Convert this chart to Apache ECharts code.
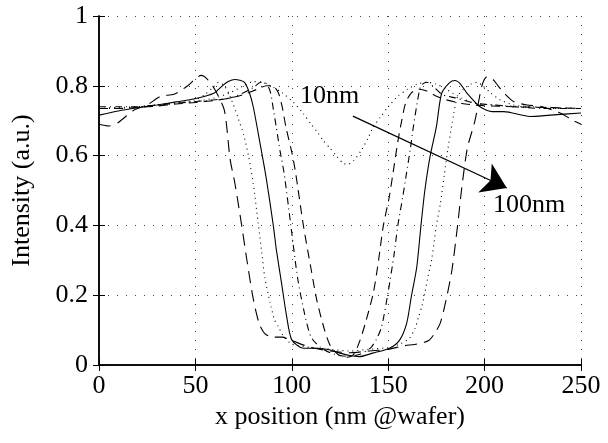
<!DOCTYPE html>
<html>
<head>
<meta charset="utf-8">
<script src="https://cdn.jsdelivr.net/npm/echarts@6/dist/echarts.min.js"></script>
<style>
  html, body { margin: 0; padding: 0; background: #fff; }
  #chart { width: 608px; height: 443px; }
</style>
</head>
<body>
<div id="chart"></div>
<script>
// tick values
var xTicks = [0, 50, 100, 150, 200, 250];
var yTicks = [0, 0.2, 0.4, 0.6, 0.8, 1];

// 10nm line, shallow dip (dotted)
var x10 = [0, 10, 20, 30, 40, 50, 60, 68, 75, 80, 85, 90, 95, 100.6, 106, 110, 113.6, 116, 120, 123, 126.6, 129, 132, 136, 139.6, 142, 146, 150, 155, 160, 165, 170, 175, 180, 188, 195, 205, 220, 235, 250];
var y10 = [0.735, 0.738, 0.74, 0.745, 0.75, 0.755, 0.765, 0.78, 0.80, 0.812, 0.81, 0.797, 0.78, 0.754, 0.72, 0.69, 0.665, 0.645, 0.62, 0.60, 0.578, 0.575, 0.585, 0.615, 0.65, 0.68, 0.71, 0.74, 0.77, 0.79, 0.805, 0.81, 0.805, 0.79, 0.765, 0.75, 0.745, 0.74, 0.738, 0.735];

// narrow dashed
var xE = [0, 10, 20, 30, 40, 50, 60, 68, 75, 82, 87, 90, 93, 95, 97, 100, 102, 106, 110, 113, 117, 120, 124, 128, 132, 135, 138, 142.3, 145, 147.5, 150.5, 152.5, 155, 157, 159, 162, 166, 170, 175, 180, 190, 200, 215, 230, 250];
var yE = [0.735, 0.735, 0.738, 0.742, 0.748, 0.752, 0.758, 0.765, 0.775, 0.79, 0.80, 0.80, 0.78, 0.74, 0.68, 0.61, 0.55, 0.40, 0.275, 0.185, 0.10, 0.055, 0.03, 0.022, 0.03, 0.065, 0.117, 0.207, 0.30, 0.40, 0.48, 0.55, 0.64, 0.70, 0.75, 0.78, 0.79, 0.785, 0.77, 0.76, 0.748, 0.743, 0.74, 0.738, 0.735];

// dash-dot
var xD = [0, 10, 20, 30, 40, 50, 60, 68, 75, 80, 84, 87, 89, 90.5, 92, 94, 96, 99.5, 103, 106.5, 110, 115, 120, 128, 135, 141, 144, 146.6, 150, 153, 155, 157.5, 159.5, 161.5, 163, 165, 167, 170, 173, 178, 185, 195, 205, 215, 230, 250];
var yD = [0.74, 0.74, 0.74, 0.745, 0.75, 0.755, 0.76, 0.765, 0.78, 0.795, 0.81, 0.805, 0.78, 0.73, 0.68, 0.61, 0.55, 0.40, 0.25, 0.15, 0.08, 0.05, 0.035, 0.025, 0.03, 0.05, 0.075, 0.11, 0.21, 0.315, 0.40, 0.48, 0.55, 0.62, 0.68, 0.75, 0.80, 0.81, 0.80, 0.775, 0.765, 0.75, 0.745, 0.74, 0.735, 0.735];

// solid
var xS = [0, 10, 20, 30, 40, 47, 55, 60, 64, 67, 70.5, 73, 75.5, 78, 80, 83.5, 86.6, 90.4, 92, 94.7, 97.3, 100, 106, 113, 120, 125, 130, 135, 142, 151, 156, 159.6, 162, 164.8, 167, 169, 171.7, 175, 177.7, 182, 184.6, 187.5, 190.7, 197.6, 204, 210, 223.5, 234, 250];
var yS = [0.716, 0.728, 0.737, 0.745, 0.754, 0.76, 0.77, 0.78, 0.80, 0.812, 0.818, 0.816, 0.81, 0.78, 0.74, 0.636, 0.54, 0.40, 0.33, 0.234, 0.14, 0.072, 0.048, 0.048, 0.043, 0.034, 0.027, 0.024, 0.034, 0.049, 0.072, 0.12, 0.196, 0.28, 0.40, 0.50, 0.597, 0.683, 0.778, 0.81, 0.815, 0.805, 0.78, 0.74, 0.726, 0.726, 0.712, 0.716, 0.722];

// deep dotted
var xP = [0, 10, 20, 30, 40, 50, 55, 59, 62, 65, 68, 72, 75, 77.5, 80, 82.5, 84.5, 86, 88.7, 91, 93, 96, 100, 110, 120, 130, 140, 150, 156, 161, 164, 165.6, 167.4, 169, 170.5, 172.5, 175, 177, 179, 181, 184, 186, 189, 193, 196, 199, 203, 208, 215, 225, 235, 250];
var yP = [0.735, 0.735, 0.74, 0.745, 0.75, 0.76, 0.775, 0.795, 0.81, 0.80, 0.77, 0.71, 0.66, 0.60, 0.52, 0.41, 0.32, 0.25, 0.18, 0.13, 0.11, 0.08, 0.06, 0.05, 0.045, 0.04, 0.045, 0.05, 0.06, 0.077, 0.106, 0.135, 0.167, 0.206, 0.25, 0.30, 0.40, 0.46, 0.54, 0.62, 0.72, 0.77, 0.79, 0.805, 0.81, 0.80, 0.78, 0.76, 0.745, 0.74, 0.735, 0.735];

// wide dashed (100nm)
var xW = [0, 5, 10, 18, 25, 32, 39, 46, 50, 53, 56, 60, 65, 68, 70.5, 74, 77, 80, 83, 86, 90, 95, 100, 110, 120, 130, 140, 150, 158, 165, 171, 174, 177, 180, 183, 186, 188, 191, 195, 198.6, 201, 204, 207, 210, 215, 222, 230, 240, 246, 250];
var yW = [0.69, 0.685, 0.695, 0.73, 0.745, 0.77, 0.776, 0.80, 0.82, 0.83, 0.82, 0.79, 0.73, 0.59, 0.52, 0.40, 0.29, 0.19, 0.12, 0.09, 0.08, 0.08, 0.07, 0.05, 0.04, 0.035, 0.04, 0.045, 0.055, 0.06, 0.07, 0.09, 0.12, 0.186, 0.27, 0.40, 0.50, 0.62, 0.70, 0.80, 0.825, 0.82, 0.80, 0.78, 0.755, 0.745, 0.74, 0.72, 0.70, 0.69];

// arrow from the 10nm label to the 100nm label
var arrowFrom = [131.7, 0.713];
var arrowTo = [211.5, 0.507];

function pairs(xs, ys) {
    return xs.map(function (x, i) { return [x, ys[i]]; });
}

var font = '"Liberation Serif", "DejaVu Serif", serif';
var fs = 26;

function curve(name, xs, ys, dash) {
    return {
        name: name,
        type: 'line',
        data: pairs(xs, ys),
        showSymbol: false,
        symbol: 'none',
        smooth: 0.25,
        lineStyle: { color: '#000', width: 1.1, type: dash }
    };
}

var myChart = echarts.init(document.getElementById('chart'), null, { renderer: 'canvas' });

var series = [
    curve('10nm', x10, y10, [1, 4]),
    curve('e', xE, yE, [9, 6]),
    curve('d', xD, yD, [7, 4, 1, 4]),
    curve('s', xS, yS, 'solid'),
    curve('p', xP, yP, [1, 4]),
    curve('100nm', xW, yW, [12, 7])
];

series[3].markLine = {
    silent: true,
    animation: false,
    symbol: ['none', 'arrow'],
    symbolSize: 24,
    label: { show: false },
    lineStyle: { color: '#000', width: 1.2, type: 'solid' },
    data: [[{ coord: arrowFrom }, { coord: arrowTo }]]
};

var option = {
    backgroundColor: '#fff',
    animation: false,
    grid: { left: 99, right: 27, top: 16, bottom: 78, show: false },
    xAxis: [{
        type: 'value',
        min: xTicks[0],
        max: xTicks[xTicks.length - 1],
        interval: 50,
        name: 'x position (nm @wafer)',
        nameLocation: 'middle',
        nameGap: 37,
        nameTextStyle: { fontFamily: font, fontSize: fs, color: '#000' },
        axisLine: { lineStyle: { color: '#000', width: 1.5 } },
        axisTick: { inside: true, length: 6, lineStyle: { color: '#000' } },
        axisLabel: { fontFamily: font, fontSize: fs, color: '#000', margin: 8 },
        splitLine: { show: true, lineStyle: { color: '#444', width: 1, type: [1, 8] } }
    }, {
        type: 'value',
        position: 'top',
        min: xTicks[0],
        max: xTicks[xTicks.length - 1],
        interval: 50,
        axisLine: { lineStyle: { color: '#000', width: 1.5 } },
        axisTick: { inside: true, length: 6, lineStyle: { color: '#000' } },
        axisLabel: { show: false },
        splitLine: { show: false }
    }],
    yAxis: [{
        type: 'value',
        min: yTicks[0],
        max: yTicks[yTicks.length - 1],
        interval: 0.2,
        name: 'Intensity (a.u.)',
        nameLocation: 'middle',
        nameGap: 64,
        nameTextStyle: { fontFamily: font, fontSize: fs, color: '#000' },
        axisLine: { show: true, lineStyle: { color: '#000', width: 1.5 } },
        axisTick: { show: true, inside: true, length: 6, lineStyle: { color: '#000' } },
        axisLabel: { fontFamily: font, fontSize: fs, color: '#000', margin: 11 },
        splitLine: { show: true, lineStyle: { color: '#444', width: 1, type: [1, 8] } }
    }, {
        type: 'value',
        position: 'right',
        min: yTicks[0],
        max: yTicks[yTicks.length - 1],
        interval: 0.2,
        axisLine: { show: true, lineStyle: { color: '#000', width: 1.5 } },
        axisTick: { show: true, inside: true, length: 6, lineStyle: { color: '#000' } },
        axisLabel: { show: false },
        splitLine: { show: false }
    }],
    graphic: [
        { type: 'text', left: 300, top: 83, style: { text: '10nm', font: fs + 'px ' + font, fill: '#000' } },
        { type: 'text', left: 493, top: 192, style: { text: '100nm', font: fs + 'px ' + font, fill: '#000' } }
    ],
    series: series
};

myChart.setOption(option);
</script>
</body>
</html>
